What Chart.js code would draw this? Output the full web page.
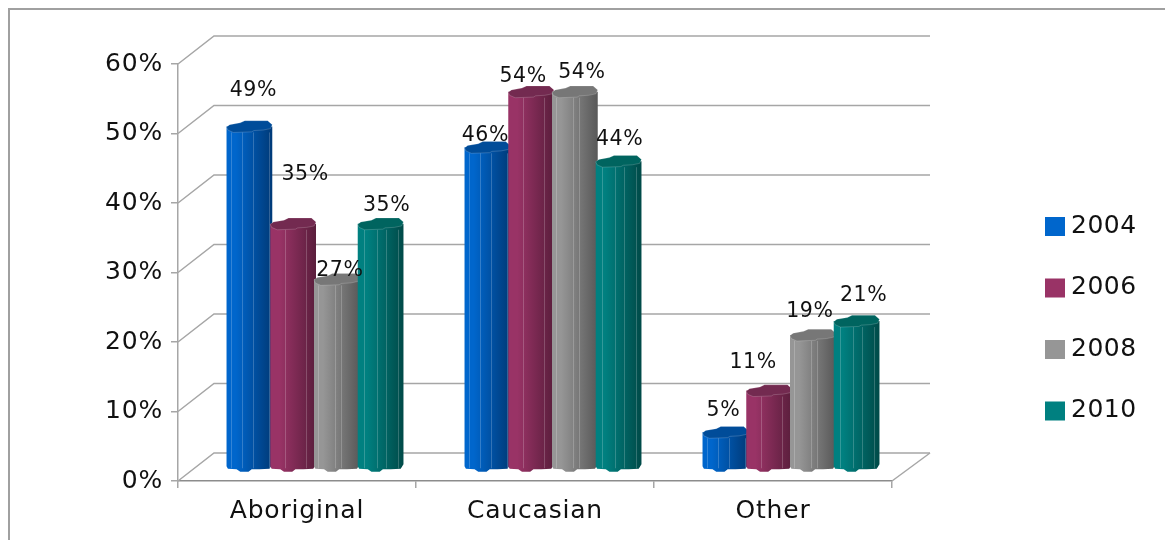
<!DOCTYPE html>
<html>
<head>
<meta charset="utf-8">
<title>Chart</title>
<script src="https://cdn.jsdelivr.net/npm/chart.js@4"></script>
<style>
    html, body { margin: 0; padding: 0; background: #fff; }
    canvas { display: block; }
</style>
</head>
<body>
<canvas id="grafico" width="1165" height="540"></canvas>
<script>
const categories = ["Aboriginal", "Caucasian", "Other"];
const years = ["2004", "2006", "2008", "2010"];
const values2004 = [49, 46, 5];
const values2006 = [35, 54, 11];
const values2008 = [27, 54, 19];
const values2010 = [35, 44, 21];
const seriesValues = [values2004, values2006, values2008, values2010];

// body colour, dark edge of the cylinder, cap colour
const baseColors = ["#0066cc", "#993366", "#969696", "#008080"];
const darkColors = ["#003a78", "#5a1e3c", "#585858", "#004a48"];
const capColors = ["#004c99", "#732a50", "#777777", "#00645f"];

// light vertical seams on each cylinder, as a share of its width
const seams = [[0.1, 0.33, 0.57, 0.92], [0.32, 0.79], [0.09, 0.47, 0.6], [0.14, 0.43, 0.62, 0.87]];

// hand placed value labels: [dx, dy] from the top of the bar
const labelNudge = [
    [[4, -36], [-2, -12], [-2, -22]],
    [[12, -49], [-8, -15], [-16, -28]],
    [[3, -9], [7, -19], [-3, -23]],
    [[6, -18], [1, -22], [7, -25]]
];

const fontFamily = "'DejaVu Sans', Verdana, sans-serif";
const lineColor = "#a6a6a6";

// the walls sit behind the front axes, bars stand half way in
const wallX = 36;
const wallXRight = 38;
const wallY = 28;
const barShiftX = 18;
const barShiftY = 14;
const barExtra = 2;
const capHeight = 12;

// outline of the cap, fractions of width and height
const capShape = [[0, .55], [.07, .35], [.3, .2], [.4, .02], [.9, .02], [1, .35], [.96, .68], [.8, .8],
    [.6, .84], [.55, .95], [.15, 1], [.03, .8]];
// outline of the foot: fraction of width, pixels below the base
const footShape = [[1, -2], [.94, 2.5], [.72, 3], [.55, 3], [.48, 5.5], [.3, 5.5], [.22, 3], [.03, 2.5], [0, 0]];

function polygon(ctx, pts) {
    ctx.beginPath();
    pts.forEach(function (p, i) {
        if (i === 0) ctx.moveTo(p[0], p[1]);
        else ctx.lineTo(p[0], p[1]);
    });
    ctx.closePath();
}

function drawCylinder(ctx, bar, s) {
    let w = bar.width + barExtra;
    let left = bar.x + barShiftX - w / 2;
    let top = bar.y - barShiftY;
    let bottom = bar.base - barShiftY;

    let pts = [[left, top], [left + w, top]];
    footShape.forEach(function (f) {
        pts.push([left + f[0] * w, bottom + f[1]]);
    });
    polygon(ctx, pts);
    let grad = ctx.createLinearGradient(left, 0, left + w, 0);
    grad.addColorStop(0, baseColors[s]);
    grad.addColorStop(0.2, baseColors[s]);
    grad.addColorStop(1, darkColors[s]);
    ctx.fillStyle = grad;
    ctx.fill();

    ctx.strokeStyle = "rgba(255,255,255,0.2)";
    ctx.lineWidth = 1;
    seams[s].forEach(function (f) {
        let x = Math.round(left + f * w) + 0.5;
        ctx.beginPath();
        ctx.moveTo(x, top + capHeight / 2);
        ctx.lineTo(x, bottom + 2);
        ctx.stroke();
    });

    polygon(ctx, capShape.map(function (c) {
        return [left + c[0] * w, top - capHeight / 2 + c[1] * capHeight];
    }));
    ctx.fillStyle = capColors[s];
    ctx.fill();
    ctx.strokeStyle = "rgba(255,255,255,0.18)";
    ctx.stroke();
}

const scene = {
    id: "scene",
    beforeDraw(chart) {
        let ctx = chart.ctx;
        ctx.letterSpacing = "0.8px";
        // frame runs off the right and bottom of the page
        ctx.save();
        ctx.strokeStyle = "#a0a0a0";
        ctx.lineWidth = 2;
        ctx.beginPath();
        ctx.moveTo(9, 545);
        ctx.lineTo(9, 9);
        ctx.lineTo(1170, 9);
        ctx.stroke();
        ctx.restore();
    },
    beforeDatasetsDraw(chart) {
        let ctx = chart.ctx;
        let area = chart.chartArea;
        let y = chart.scales.y;
        ctx.save();
        ctx.strokeStyle = lineColor;
        ctx.lineWidth = 1.5;
        y.ticks.forEach(function (t) {
            let py = y.getPixelForValue(t.value);
            ctx.beginPath();
            ctx.moveTo(area.left, py);
            ctx.lineTo(area.left + wallX, py - wallY);
            ctx.lineTo(area.right + wallXRight, py - wallY);
            ctx.stroke();
        });
        // floor edge on the right
        ctx.beginPath();
        ctx.moveTo(area.right, area.bottom);
        ctx.lineTo(area.right + wallXRight, area.bottom - wallY);
        ctx.stroke();
        ctx.restore();
    },
    afterDatasetsDraw(chart) {
        let ctx = chart.ctx;
        ctx.save();
        ctx.lineJoin = "round";
        categories.forEach(function (c, i) {
            years.forEach(function (yr, s) {
                drawCylinder(ctx, chart.getDatasetMeta(s).data[i], s);
            });
        });

        // value labels go over every bar
        ctx.font = "20.5px " + fontFamily;
        ctx.letterSpacing = "0.6px";
        ctx.fillStyle = "#111111";
        ctx.textAlign = "center";
        ctx.textBaseline = "middle";
        categories.forEach(function (c, i) {
            years.forEach(function (yr, s) {
                let bar = chart.getDatasetMeta(s).data[i];
                let n = labelNudge[s][i];
                ctx.fillText(seriesValues[s][i] + "%", bar.x + barShiftX + n[0], bar.y - barShiftY + n[1]);
            });
        });

        // legend column
        ctx.font = "25px " + fontFamily;
        ctx.letterSpacing = "0.5px";
        ctx.textAlign = "left";
        years.forEach(function (yr, s) {
            let ly = 226 + s * 61.5;
            ctx.fillStyle = baseColors[s];
            ctx.fillRect(1045, ly - 9, 20, 19);
            ctx.fillStyle = "#111111";
            ctx.fillText(yr, 1071, ly);
        });
        ctx.restore();
        ctx.letterSpacing = "0.8px";
    }
};

new Chart(document.getElementById("grafico").getContext("2d"), {
    type: "bar",
    data: {
        labels: categories,
        datasets: years.map(function (yr, s) {
            return {
                label: yr,
                data: seriesValues[s],
                backgroundColor: "rgba(0,0,0,0)",
                barPercentage: 1,
                categoryPercentage: 0.735
            };
        })
    },
    options: {
        responsive: false,
        animation: false,
        layout: { padding: { left: 0, top: 64, right: 273, bottom: 0 } },
        plugins: {
            legend: { display: false },
            tooltip: { enabled: false }
        },
        scales: {
            x: {
                afterFit(axis) { axis.height = 59; },
                grid: { drawOnChartArea: false, tickLength: 7, color: lineColor, lineWidth: 1.5 },
                border: { color: "#8c8c8c", width: 1.5 },
                ticks: {
                    color: "#111111",
                    font: { family: fontFamily, size: 25 },
                    padding: 8,
                    maxRotation: 0,
                    autoSkip: false
                }
            },
            y: {
                min: 0,
                max: 60,
                afterFit(axis) { axis.width = 178; },
                grid: { drawOnChartArea: false, tickLength: 7, color: lineColor, lineWidth: 1.5 },
                border: { color: lineColor, width: 1.5 },
                ticks: {
                    stepSize: 10,
                    color: "#111111",
                    font: { family: fontFamily, size: 25 },
                    padding: 8,
                    callback: function (v) { return v + "%"; }
                }
            }
        }
    },
    plugins: [scene]
});
</script>
</body>
</html>
